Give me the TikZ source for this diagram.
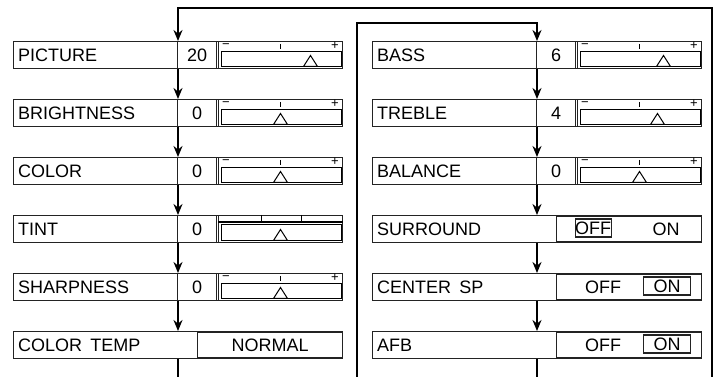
\documentclass[tikz,border=0pt]{standalone}
\usepackage{fontspec}
\setmainfont{Liberation Sans}
\usetikzlibrary{arrows.meta,positioning}
\definecolor{menuline}{RGB}{35,35,35}

\tikzset{
  menurow/.style={draw=menuline, line width=1.4pt, anchor=north west, inner sep=0pt,
    minimum width=329pt, minimum height=27pt},
  menulabel/.style={anchor=west, inner sep=0pt, font=\fontsize{18}{20}\selectfont},
  valuebox/.style={draw=menuline, line width=1.4pt, anchor=north west, inner sep=0pt,
    minimum width=39pt, minimum height=27pt, font=\fontsize{18}{20}\selectfont},
  barbox/.style={draw=menuline, line width=1pt, anchor=north west, inner sep=0pt,
    minimum width=124pt, minimum height=27pt},
  optbox/.style={draw=menuline, line width=1.2pt, anchor=north west, inner sep=0pt,
    minimum width=145pt, minimum height=25pt, font=\fontsize{18}{20}\selectfont},
  optword/.style={inner sep=0pt, font=\fontsize{18}{20}\selectfont},
  optsel/.style={optword, draw=menuline, line width=1.2pt, minimum height=18pt},
  tickmark/.style={inner sep=0pt, font=\fontsize{13}{13}\selectfont},
  flow/.style={line width=2.4pt, -{Stealth[length=11pt,width=9pt]}},
  loopline/.style={line width=2.4pt},
}

\begin{document}
\begin{tikzpicture}[x=1pt,y=1pt]
    \useasboundingbox (0,0) rectangle (716,377);
    % columns of the connectors
    \coordinate (lcol) at (178,0);
    \coordinate (rcol) at (537,0);

    % rows with a slider
    \foreach \name/\txt/\val/\xpos/\ypos/\mark in {
        picture/PICTURE/20/13/336/30, brightness/BRIGHTNESS/0/13/278/0,
        color/COLOR/0/13/220/0, sharpness/SHARPNESS/0/13/104/0,
        bass/BASS/6/372/336/24, treble/TREBLE/4/372/278/18,
        balance/BALANCE/0/372/220/0} {
      \node[menurow] (\name) at (\xpos,\ypos) {};
      \node[menulabel] (\name lab) at ([xshift=5pt]\name.west) {\txt};
      \node[valuebox] (\name val) at ([xshift=164pt]\name.north west) {\val};
      \node[barbox] (\name bar) at ([xshift=205pt]\name.north west) {};
      \draw[line width=1pt] ([shift={(3,2)}]\name bar.south west) rectangle ([shift={(-2,-11)}]\name bar.north east);
      \node[tickmark] at ([shift={(8,-5)}]\name bar.north west) {−};
      \node[tickmark] at ([shift={(-8,-5)}]\name bar.north east) {+};
      \draw[line width=0.9pt] ([yshift=-3pt]\name bar.north) -- ++(0,-5);
      \draw[line width=1pt] ([shift={({\mark-7},2.5)}]\name bar.south) -- ++(14,0) -- ++(-7,11) -- cycle;
    }

    % tint row
    \node[menurow] (tint) at (13,162) {};
    \node[menulabel] (tintlab) at ([xshift=5pt]tint.west) {TINT};
    \node[valuebox] (tintval) at ([xshift=164pt]tint.north west) {0};
    \node[barbox] (tintbar) at ([xshift=205pt]tint.north west) {};
    \draw[line width=1.6pt] ([yshift=-7pt]tintbar.north west) -- ([yshift=-7pt]tintbar.north east);
    \draw[line width=1pt] ([xshift=43pt]tintbar.north west) -- ++(0,-7);
    \draw[line width=1pt] ([xshift=83pt]tintbar.north west) -- ++(0,-7);
    \draw[line width=1pt] ([shift={(3,2)}]tintbar.south west) rectangle ([shift={(-2,-10)}]tintbar.north east);
    \draw[line width=1pt] ([shift={(-7,2.5)}]tintbar.south) -- ++(14,0) -- ++(-7,11) -- cycle;

    % rows with a choice
    \node[menurow] (colortemp) at (13,46) {};
    \node[menulabel] (colortemplab) at ([xshift=5pt]colortemp.west) {COLOR\hspace{0.45em}TEMP};
    \node[optbox] (colortempopt) at ([shift={(184,-1)}]colortemp.north west) {NORMAL};

    \node[menurow] (surround) at (372,162) {};
    \node[menulabel] (surroundlab) at ([xshift=5pt]surround.west) {SURROUND};
    \node[optbox] (surroundopt) at ([shift={(184,-1)}]surround.north west) {};
    \node[optsel, minimum width=36pt] (surroundoff) at ([shift={(-36,1)}]surroundopt.center) {OFF};
    \node[optword] (surroundon) at ([xshift=37pt]surroundopt.center) {ON};

    \node[menurow] (centersp) at (372,104) {};
    \node[menulabel] (centersplab) at ([xshift=5pt]centersp.west) {CENTER\hspace{0.45em}SP};
    \node[optbox] (centerspopt) at ([shift={(184,-1)}]centersp.north west) {};
    \node[optword] (centerspoff) at ([xshift=-26pt]centerspopt.center) {OFF};
    \node[optsel, minimum width=47pt] (centerspon) at ([shift={(38,1)}]centerspopt.center) {ON};

    \node[menurow] (afb) at (372,46) {};
    \node[menulabel] (afblab) at ([xshift=5pt]afb.west) {AFB};
    \node[optbox] (afbopt) at ([shift={(184,-1)}]afb.north west) {};
    \node[optword] (afboff) at ([xshift=-26pt]afbopt.center) {OFF};
    \node[optsel, minimum width=47pt] (afbon) at ([shift={(38,1)}]afbopt.center) {ON};

    % connectors
    \foreach \a/\b in {picture/brightness, brightness/color, color/tint, tint/sharpness, sharpness/colortemp}
      \draw[flow] (\a.south -| lcol) -- (\b.north -| lcol);
    \foreach \a/\b in {bass/treble, treble/balance, balance/surround, surround/centersp, centersp/afb}
      \draw[flow] (\a.south -| rcol) -- (\b.north -| rcol);
    \draw[loopline] (colortemp.south -| lcol) -- (lcol);
    \draw[loopline] (afb.south -| rcol) -- (rcol);

    \coordinate (rstart) at (357,0);
    \coordinate (rturn) at (357,354);
    \draw[flow] (rstart) -- (rturn) -- (rturn -| rcol) -- (bass.north -| rcol);
    \coordinate (ostart) at (712,0);
    \coordinate (oturn) at (712,369);
    \draw[flow] (ostart) -- (oturn) -- (oturn -| lcol) -- (picture.north -| lcol);
  \end{tikzpicture}
\end{document}
